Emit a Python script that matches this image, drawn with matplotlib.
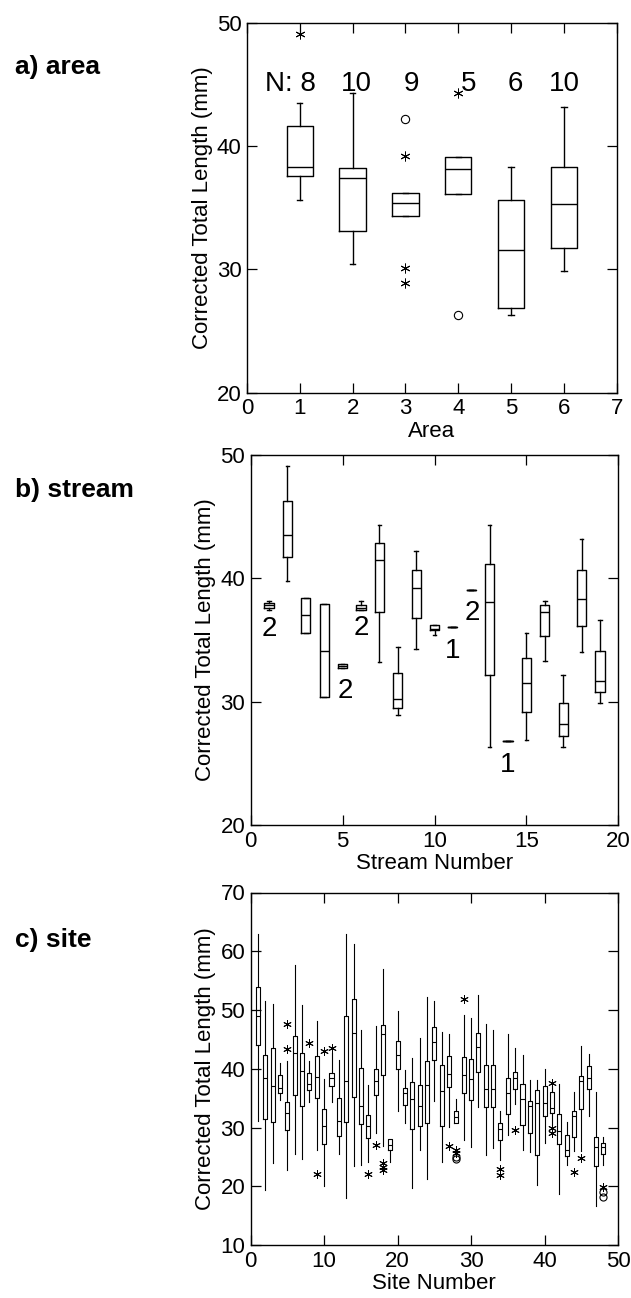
import numpy as np
import matplotlib
matplotlib.use("Agg")
import matplotlib.pyplot as plt

plt.rcParams['font.family'] = ['Liberation Sans', 'DejaVu Sans']

# ---- a) area ----
area_pos = [1, 2, 3, 4, 5, 6]
area_whislo = [35.6, 30.4, 34.3, 36.1, 26.3, 29.9]
area_q1 = [37.6, 33.1, 34.3, 36.1, 26.9, 31.7]
area_med = [38.3, 37.4, 35.4, 38.1, 31.6, 35.3]
area_q3 = [41.6, 38.2, 36.2, 39.1, 35.6, 38.3]
area_whishi = [43.5, 44.3, 36.2, 39.1, 38.3, 43.2]
area_n = [8, 10, 9, 5, 6, 10]
area_star_x = [1, 3, 3, 3, 4]
area_star_y = [49.1, 39.2, 30.1, 28.9, 44.3]
area_circ_x = [3, 4]
area_circ_y = [42.2, 26.3]

# ---- b) stream ----
stream_pos = list(range(1, 20))
stream_whislo = [37.4, 39.8, 35.6, 30.4, 32.7, 37.4, 33.2, 28.9, 34.3, 35.4,
                 36.05, 39.05, 26.3, 26.8, 26.9, 33.3, 26.3, 34.0, 29.9]
stream_q1 = [37.6, 41.7, 35.6, 30.4, 32.7, 37.4, 37.3, 29.5, 36.8, 35.8,
             36.05, 39.05, 32.2, 26.8, 29.2, 35.3, 27.2, 36.1, 30.8]
stream_med = [37.8, 43.5, 37.0, 34.1, 32.9, 37.6, 41.5, 30.2, 39.2, 35.9,
              36.05, 39.05, 38.1, 26.8, 31.5, 37.3, 28.2, 38.3, 31.7]
stream_q3 = [38.0, 46.3, 38.4, 37.9, 33.05, 37.8, 42.9, 32.3, 40.7, 36.2,
             36.05, 39.05, 41.2, 26.8, 33.5, 37.8, 29.9, 40.7, 34.1]
stream_whishi = [38.2, 49.1, 38.4, 37.9, 33.05, 38.2, 44.3, 34.4, 42.2, 36.2,
                 36.05, 39.05, 44.3, 26.8, 35.6, 38.2, 32.2, 43.2, 36.6]
stream_small_n = ["2", "2", "2", "1", "2", "1"]
stream_small_at = [1, 5, 6, 11, 12, 14]
stream_small_y = [35.9, 30.9, 36.0, 34.1, 37.2, 24.9]

# ---- c) site ----
site_pos = list(range(1, 49))
site_whislo = [31.1, 19.4, 24.0, 34.7, 22.8, 25.5, 24.7, 34.3, 26.1, 20.1,
               34.4, 25.5, 18.0, 23.5, 23.6, 24.2, 29.1, 26.9, 24.1, 32.8,
               30.8, 19.7, 26.2, 21.3, 34.5, 24.1, 30.1, 30.8, 27.9, 26.6,
               33.5, 25.4, 26.5, 24.5, 28.7, 34.0, 26.2, 25.8, 20.2, 27.4,
               30.5, 18.6, 23.7, 26.0, 26.0, 32.0, 16.6, 23.7]
site_q1 = [44.0, 31.5, 30.9, 35.9, 29.5, 35.6, 33.6, 36.4, 35.1, 27.2,
           37.0, 28.6, 31.0, 35.2, 30.6, 28.2, 35.5, 39.0, 26.1, 39.9,
           33.8, 29.8, 30.2, 30.8, 41.5, 30.2, 36.9, 30.8, 35.9, 34.6,
           39.5, 33.5, 33.5, 27.8, 32.3, 36.5, 30.4, 29.0, 25.4, 32.0,
           32.4, 27.2, 25.2, 28.3, 33.2, 36.5, 23.5, 25.5]
site_med = [49.0, 38.5, 37.0, 36.8, 32.4, 42.6, 39.7, 37.4, 38.6, 30.2,
            38.5, 31.1, 38.0, 46.1, 33.6, 30.2, 38.0, 46.0, 27.0, 42.4,
            35.9, 34.8, 33.6, 37.3, 44.5, 36.2, 39.1, 31.8, 39.0, 38.2,
            43.7, 36.6, 36.6, 29.8, 35.9, 38.5, 34.9, 33.6, 34.1, 34.1,
            33.4, 29.4, 26.1, 32.0, 38.0, 38.5, 26.6, 26.6]
site_q3 = [53.9, 42.4, 43.5, 38.9, 34.4, 45.6, 42.7, 39.3, 42.1, 33.2,
           39.3, 35.1, 49.0, 51.8, 40.2, 32.2, 40.0, 47.5, 28.1, 44.8,
           36.8, 37.7, 37.2, 41.3, 47.1, 40.7, 42.2, 32.8, 42.0, 41.7,
           46.1, 40.7, 40.6, 30.8, 38.4, 39.5, 37.4, 34.5, 36.3, 37.0,
           36.1, 32.3, 28.7, 32.8, 38.8, 40.4, 28.4, 27.4]
site_whishi = [63.0, 51.6, 51.0, 40.9, 41.4, 57.6, 50.8, 41.4, 48.1, 38.2,
               42.6, 41.5, 63.0, 61.2, 46.6, 37.3, 47.2, 57.0, 28.1, 49.9,
               39.8, 41.9, 45.3, 52.2, 51.6, 46.3, 45.9, 34.9, 49.1, 48.7,
               52.6, 47.7, 46.6, 32.8, 45.9, 43.6, 42.4, 38.1, 38.1, 39.9,
               37.0, 37.4, 31.0, 36.0, 43.9, 42.5, 36.1, 28.4]
site_star_x = [5, 5, 8, 9, 10, 11, 16, 17, 18, 18, 18, 27, 28, 28, 29, 34, 34,
               36, 41, 41, 41, 44, 45, 48]
site_star_y = [47.6, 43.4, 44.3, 22.1, 43.1, 43.5, 22.1, 27.0, 23.9, 23.3, 22.8,
               26.8, 26.1, 25.6, 51.9, 23.0, 22.0, 29.5, 37.6, 30.0, 29.1, 22.4,
               24.8, 19.8]
site_circ_x = [28, 28, 48, 48]
site_circ_y = [25.0, 24.6, 19.0, 18.2]


def make_stats(lo, q1, med, q3, hi):
    return [dict(whislo=a, q1=b, med=c, q3=d, whishi=e)
            for a, b, c, d, e in zip(lo, q1, med, q3, hi)]


def draw_boxes(ax, stats, pos, width, capw, lw, showcaps=True):
    line = dict(color="black", linewidth=lw)
    ax.bxp(stats, positions=pos, widths=width, showfliers=False,
           showcaps=showcaps, capwidths=capw, manage_ticks=False,
           boxprops=line, medianprops=line, whiskerprops=line, capprops=line)


def draw_outliers(ax, sx, sy, cx, cy, ms):
    # asterisks for far outliers, open circles for the rest
    ax.plot(sx, sy, linestyle="none", marker=(6, 2, 0), color="black",
            markersize=ms, markeredgewidth=0.7)
    ax.plot(cx, cy, linestyle="none", marker="o", markerfacecolor="none",
            markeredgecolor="black", markersize=ms * 0.85, markeredgewidth=0.8)


def style_axes(ax):
    for s in ax.spines.values():
        s.set_linewidth(1.0)
    ax.tick_params(direction="in", length=7, width=0.9, top=True, right=True,
                   labelsize=16, pad=4)


W, H = 631, 1298
fig = plt.figure(figsize=(W / 100, H / 100), dpi=100)

# a) area
ax1 = fig.add_axes([247 / W, 1 - 392.7 / H, 369.7 / W, 370 / H])
draw_boxes(ax1, make_stats(area_whislo, area_q1, area_med, area_q3, area_whishi),
           area_pos, 0.5, 0.1, 1.0)
draw_outliers(ax1, area_star_x, area_star_y, area_circ_x, area_circ_y, 7)
ax1.set_xlim(0, 7)
ax1.set_ylim(20, 50)
ax1.set_xticks(range(0, 8))
ax1.set_yticks([20, 30, 40, 50])
ax1.set_xlabel("Area", fontsize=16, labelpad=1)
ax1.set_ylabel("Corrected Total Length (mm)", fontsize=16, labelpad=3)
style_axes(ax1)
n_label_x = [1.31, 2.08, 3.12, 4.19, 5.08, 6.0]
for i, n in enumerate(area_n):
    if i == 0:
        ax1.text(n_label_x[i], 45.0, "N: %d" % n, ha="right", va="center", fontsize=20)
    else:
        ax1.text(n_label_x[i], 45.0, str(n), ha="center", va="center", fontsize=20)
fig.text(15 / W, 1 - 67 / H, "a) area", fontsize=19, fontweight="bold",
         ha="left", va="center")

# b) stream
ax2 = fig.add_axes([250.7 / W, 1 - 825 / H, 367.6 / W, 370 / H])
draw_boxes(ax2, make_stats(stream_whislo, stream_q1, stream_med, stream_q3, stream_whishi),
           stream_pos, 0.5, 0.2, 1.0)
ax2.set_xlim(0, 20)
ax2.set_ylim(20, 50)
ax2.set_xticks([0, 5, 10, 15, 20])
ax2.set_yticks([20, 30, 40, 50])
ax2.set_xlabel("Stream Number", fontsize=16, labelpad=1)
ax2.set_ylabel("Corrected Total Length (mm)", fontsize=16, labelpad=3)
style_axes(ax2)
small_dx = [0, 0.15, 0, 0, 0.05, 0]
for lab, s, y, dx in zip(stream_small_n, stream_small_at, stream_small_y, small_dx):
    ax2.text(s + dx, y, lab, ha="center", va="center", fontsize=20)
fig.text(15 / W, 1 - 490 / H, "b) stream", fontsize=19, fontweight="bold",
         ha="left", va="center")

# c) site
ax3 = fig.add_axes([250.7 / W, 1 - 1245 / H, 367.3 / W, 352.5 / H])
draw_boxes(ax3, make_stats(site_whislo, site_q1, site_med, site_q3, site_whishi),
           site_pos, 0.55, 0.0, 0.8, showcaps=False)
draw_outliers(ax3, site_star_x, site_star_y, site_circ_x, site_circ_y, 6)
ax3.set_xlim(0, 50)
ax3.set_ylim(10, 70)
ax3.set_xticks([0, 10, 20, 30, 40, 50])
ax3.set_yticks(range(10, 71, 10))
ax3.set_xlabel("Site Number", fontsize=16, labelpad=1)
ax3.set_ylabel("Corrected Total Length (mm)", fontsize=16, labelpad=3)
style_axes(ax3)
fig.text(15 / W, 1 - 940 / H, "c) site", fontsize=19, fontweight="bold",
         ha="left", va="center")

fig.savefig("out.png", dpi=100)
